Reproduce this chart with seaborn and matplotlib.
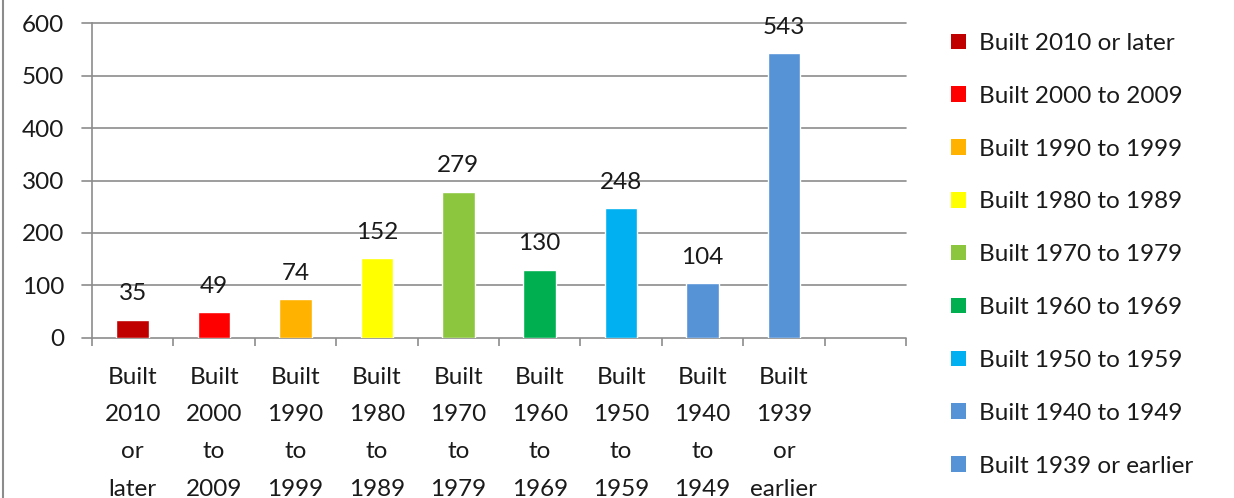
import matplotlib
matplotlib.use("Agg")
import matplotlib.pyplot as plt
from matplotlib.lines import Line2D
from matplotlib.patches import Patch
import seaborn as sns
import pandas as pd

# Housing units by year structure built
categories = [
    "Built 2010 or later", "Built 2000 to 2009", "Built 1990 to 1999",
    "Built 1980 to 1989", "Built 1970 to 1979", "Built 1960 to 1969",
    "Built 1950 to 1959", "Built 1940 to 1949", "Built 1939 or earlier",
]
tick_labels = [
    "Built\n2010\nor\nlater", "Built\n2000\nto\n2009", "Built\n1990\nto\n1999",
    "Built\n1980\nto\n1989", "Built\n1970\nto\n1979", "Built\n1960\nto\n1969",
    "Built\n1950\nto\n1959", "Built\n1940\nto\n1949", "Built\n1939\nor\nearlier",
]
values = [35, 49, 74, 152, 279, 130, 248, 104, 543]
colors = ["#C00000", "#FF0000", "#FFB300", "#FFFF00", "#8CC63F",
          "#00B050", "#00B0F0", "#5592D6", "#5592D6"]
y_ticks = [0, 100, 200, 300, 400, 500, 600]

sns.set_theme(style="white")
plt.rcParams["font.family"] = ["Lato", "DejaVu Sans"]

FS = 17.5
TXT = "#1a1a1a"
GRID = "#8C8C8C"

df = pd.DataFrame({"category": categories, "value": values})

fig = plt.figure(figsize=(12.34, 4.98), dpi=100)
ax = fig.add_axes([0.0746, 0.3213, 0.6596, 0.6325])

sns.barplot(data=df, x="category", y="value", hue="category",
            palette=dict(zip(categories, colors)), order=categories,
            width=0.4, dodge=False, legend=False, saturation=1, ax=ax)

# One empty category slot on the right of the axis
n_slots = len(categories) + 1
ax.set_xlim(-0.5, n_slots - 0.5)
ax.set_ylim(0, 600)
ax.set_yticks(y_ticks)
ax.set_yticklabels([str(t) for t in y_ticks], fontsize=FS, color=TXT)
ax.set_xticks(range(len(categories)))
ax.set_xticklabels(tick_labels, fontsize=FS, color=TXT, linespacing=1.95)
ax.tick_params(axis="x", length=0, pad=21)
ax.tick_params(axis="y", length=0, pad=20)
ax.set_xlabel("")
ax.set_ylabel("")

# Category boundary tick marks below the axis
ax.set_xticks([i - 0.5 for i in range(n_slots + 1)], minor=True)
ax.tick_params(axis="x", which="minor", length=6, width=1.2, color=GRID,
               direction="out", bottom=True)

# Horizontal gridlines, extended slightly to the left of the axis
for t in y_ticks:
    ax.axhline(t, xmin=-0.012, xmax=1.0, color=GRID, lw=1.2,
               clip_on=False, zorder=0)

for side in ["top", "right", "bottom"]:
    ax.spines[side].set_visible(False)
ax.spines["left"].set_color(GRID)
ax.spines["left"].set_linewidth(1.2)

# Value labels above each bar
for i, v in enumerate(values):
    ax.annotate(str(v), (i, v), xytext=(0, 11), textcoords="offset points",
                ha="center", va="bottom", fontsize=FS, color=TXT)

# Legend on the right
handles = [Patch(facecolor=c, edgecolor="none") for c in colors]
leg = fig.legend(handles, categories, loc="upper left",
                 bbox_to_anchor=(0.753, 0.978), frameon=False, fontsize=FS,
                 handlelength=0.6, handleheight=0.6, handletextpad=0.55,
                 labelspacing=1.31, labelcolor=TXT)

# Chart frame edge on the left
fig.add_artist(Line2D([0.0025, 0.0025], [0, 1], transform=fig.transFigure,
                      color="#8C8C8C", lw=1.5))

fig.savefig("out.png", dpi=100)
